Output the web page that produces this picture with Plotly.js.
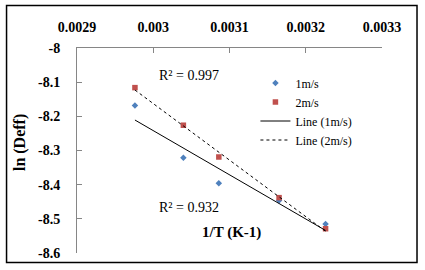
<!DOCTYPE html>
<html>
<head>
<meta charset="utf-8">
<script src="https://cdn.plot.ly/plotly-3.0.1.min.js"></script>
<style>
html,body{margin:0;padding:0;background:#fff;}
#chart{width:425px;height:270px;}
</style>
</head>
<body>
<div id="chart"></div>
<script>
// Data
var invT = [0.002976, 0.0030395, 0.003086, 0.003165, 0.003226];
var lnDeff1 = [-8.168, -8.321, -8.396, -8.446, -8.515];
var lnDeff2 = [-8.116, -8.226, -8.319, -8.438, -8.529];
var seriesNames = ['1m/s', '2m/s', 'Line (1m/s)', 'Line (2m/s)'];
var r2Labels = ['R² = 0.997', 'R² = 0.932'];
var xTickVals = [0.0029, 0.003, 0.0031, 0.0032, 0.0033];
var xTickText = ['0.0029', '0.003', '0.0031', '0.0032', '0.0033'];
var yTickVals = [-8.6, -8.5, -8.4, -8.3, -8.2, -8.1, -8];
var yTickText = ['-8.6', '-8.5', '-8.4', '-8.3', '-8.2', '-8.1', '-8'];
var xTitle = '1/T (K-1)';
var yTitle = 'ln (Deff)';

function linfit(x, y) {
  var n = x.length, mx = 0, my = 0;
  for (var i = 0; i < n; i++) { mx += x[i]; my += y[i]; }
  mx /= n; my /= n;
  var sxy = 0, sxx = 0;
  for (var i = 0; i < n; i++) { sxy += (x[i]-mx)*(y[i]-my); sxx += (x[i]-mx)*(x[i]-mx); }
  var b = sxy / sxx, a = my - b*mx;
  var xs = [Math.min.apply(null, x), Math.max.apply(null, x)];
  return {x: xs, y: xs.map(function(v){ return a + b*v; })};
}
var fit1 = linfit(invT, lnDeff1);
var fit2 = linfit(invT, lnDeff2);

var serif = 'Liberation Serif, Times New Roman, serif';
var axisGray = '#868686';

var traces = [
  {x: invT, y: lnDeff1, mode: 'markers', name: seriesNames[0], type: 'scatter',
   marker: {symbol: 'diamond', size: 5, color: '#4F81BD'}},
  {x: invT, y: lnDeff2, mode: 'markers', name: seriesNames[1], type: 'scatter',
   marker: {symbol: 'square', size: 5.5, color: '#C0504D'}},
  {x: fit1.x, y: fit1.y, mode: 'lines', name: seriesNames[2], type: 'scatter',
   line: {color: '#000', width: 1}},
  {x: fit2.x, y: fit2.y, mode: 'lines', name: seriesNames[3], type: 'scatter',
   line: {color: '#000', width: 1, dash: '3px,3px'}}
];

function ann(x, y, text, size, bold, angle) {
  return {xref: 'paper', yref: 'paper', x: x, y: y, text: text, showarrow: false,
          xanchor: 'center', yanchor: 'middle', textangle: angle || 0,
          font: {family: serif, size: size, color: '#000', weight: bold ? 'bold' : 'normal'}};
}

var layout = {
  width: 425, height: 270,
  margin: {l: 77, r: 43, t: 48, b: 17, pad: 0},
  paper_bgcolor: '#fff', plot_bgcolor: '#fff',
  showlegend: true,
  legend: {x: 0.585, y: 0.9, xanchor: 'left', yanchor: 'top', bgcolor: 'rgba(0,0,0,0)',
           font: {family: serif, size: 12, color: '#000'}, tracegroupgap: 0},
  xaxis: {side: 'top', range: [0.0029, 0.0033], tickvals: xTickVals, ticktext: xTickText,
          showgrid: false, zeroline: false, showline: true, linecolor: axisGray, linewidth: 1,
          ticks: 'inside', ticklen: 5, tickcolor: axisGray, ticklabelstandoff: 9,
          tickfont: {family: serif, size: 14, color: '#000', weight: 'bold'}},
  yaxis: {range: [-8.6, -8], tickvals: yTickVals, ticktext: yTickText,
          showgrid: false, zeroline: false, showline: true, linecolor: axisGray, linewidth: 1,
          ticks: 'inside', ticklen: 5, tickcolor: axisGray, ticklabelstandoff: 13,
          tickfont: {family: serif, size: 14, color: '#000', weight: 'bold'}},
  annotations: [
    ann(-0.187, 0.541, yTitle, 16, true, -90),
    ann(0.507, 0.098, xTitle, 15, true),
    ann(0.367, 0.865, r2Labels[0], 14, false),
    ann(0.367, 0.221, r2Labels[1], 14, false)
  ],
  shapes: [
    {type: 'rect', xref: 'paper', yref: 'paper', x0: -0.231, x1: 1.1148, y0: -0.046, y1: 1.207,
     line: {color: '#000', width: 1.5}, fillcolor: 'rgba(0,0,0,0)'}
  ]
};

Plotly.newPlot('chart', traces, layout, {staticPlot: true, displayModeBar: false});
</script>
</body>
</html>
